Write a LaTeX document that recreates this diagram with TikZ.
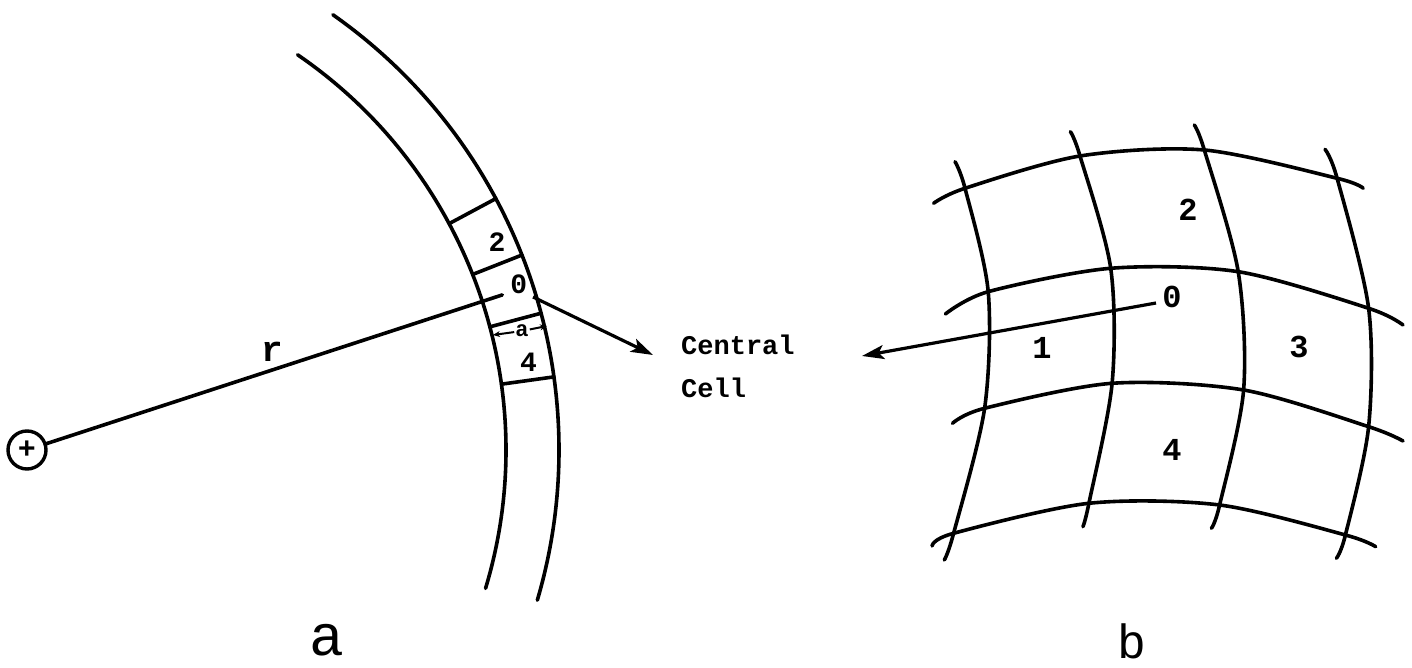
\documentclass[tikz,border=0pt]{standalone}
\usepackage{fontspec}
\newfontfamily\tw{Liberation Mono}
\usetikzlibrary{arrows.meta}
\begin{document}
\begin{tikzpicture}[x=1pt,y=1pt,
  line/.style={line width=3.6pt, line cap=round},
  arr/.style={line width=3.2pt, -{Stealth[length=22pt,width=14pt,inset=5pt]}},
  dimarr/.style={line width=2pt, -{Stealth[length=7pt,width=6pt]}},
  digit/.style={font=\tw\bfseries\fontsize{28}{30}\selectfont, inner sep=0pt},
  bdigit/.style={font=\tw\bfseries\fontsize{32}{34}\selectfont, inner sep=0pt},
  word/.style={font=\tw\bfseries\fontsize{27}{30}\selectfont, inner sep=0pt, anchor=base west},
  charge/.style={circle, draw, line width=3.4pt, minimum size=38pt, inner sep=0pt,
    font=\tw\bfseries\fontsize{30}{30}\selectfont}]
\useasboundingbox (0,0) rectangle (1412,668);
\fill[white] (0,0) rectangle (1412,668);

% ---------------- part a ----------------
\coordinate (O) at (27,218);
\node[charge] (q) at (O) {+};
\draw[line] ([shift={(O)}]55.6:479) arc[start angle=55.6,end angle=-16.8,radius=479];
\draw[line] ([shift={(O)}]54.9:532) arc[start angle=54.9,end angle=-16.4,radius=532];
\foreach \ang in {28.2,21.5,14.9,7.9}
  \draw[line] ([shift={(O)}]\ang:479) -- ([shift={(O)}]\ang:532);
\node[digit] (a2) at ([shift={(O)}]23.9:514) {2};
\node[digit] (a0) at ([shift={(O)}]18.6:519) {0};
\node[digit] (a4) at ([shift={(O)}]9.9:509) {4};
\coordinate (rend) at ([shift={(O)}]18.07:500);
\draw[line] (q) -- (rend);
\node[font=\tw\bfseries\fontsize{36}{36}\selectfont, inner sep=0pt] (rlab) at (272,316) {r};
% dimension a
\coordinate (aL) at (493,333);
\coordinate (aR) at (547,342);
\node[font=\tw\bfseries\fontsize{22}{22}\selectfont, inner sep=1pt] (alab) at (522,337) {a};
\draw[dimarr] (alab) -- (aL);
\draw[dimarr] (alab) -- (aR);
% arrow to central cell
\coordinate (atail) at (533,371);
\coordinate (atip) at (653,313);
\draw[arr] (atail) -- (atip);
\node[word] (central) at (681,313) {Central};
\node[word] (cell) at (681,270) {Cell};
\node[font=\tw\fontsize{58}{58}\selectfont, inner sep=0pt, anchor=base] (alabel) at (327,12) {a};

% ---------------- part b ----------------
% horizontal curves
\draw[line] plot[smooth] coordinates {(933.6,464.7) (965,479.7) (1080,512) (1204.3,518) (1337.1,489.7) (1363.2,479.7)};
\draw[line] plot[smooth] coordinates {(945.4,354) (988.2,376.3) (1110.7,399.7) (1238.2,396.3) (1368.6,359.7) (1403,343)};
\draw[line] plot[smooth] coordinates {(952.5,244.7) (984.6,259.7) (1112.1,284.7) (1243.6,278) (1368.6,241.3) (1403,227)};
\draw[line] plot[smooth] coordinates {(932.1,122) (953.6,134.7) (1088.9,164.7) (1219.6,163) (1345.4,133) (1375.7,121.3)};
% vertical curves
\draw[line] plot[smooth] coordinates {(955,506.3) (965,479.7) (988.2,376.3) (984.6,259.7) (953.6,134.7) (944.3,108)};
\draw[line] plot[smooth] coordinates {(1070.4,536.3) (1080,512) (1110.7,399.7) (1112.1,284.7) (1088.9,164.7) (1082.9,141.3)};
\draw[line] plot[smooth] coordinates {(1194.3,543) (1204.3,518) (1238.2,396.3) (1243.6,278) (1219.6,163) (1211.4,139.7)};
\draw[line] plot[smooth] coordinates {(1325,518.7) (1337.1,489.7) (1368.6,359.7) (1368.6,241.3) (1345.4,133) (1336.4,109.7)};
% labels
\node[bdigit] (b2) at (1188,458) {2};
\node[bdigit] (b0) at (1172,371) {0};
\node[bdigit] (b1) at (1042,320) {1};
\node[bdigit] (b3) at (1299,321) {3};
\node[bdigit] (b4) at (1172,218) {4};
\coordinate (btail) at (1156,365);
\coordinate (btip) at (862,312);
\draw[arr] (btail) -- (btip);
\node[font=\tw\fontsize{48}{48}\selectfont, inner sep=0pt, anchor=base] (blabel) at (1132,9) {b};
\end{tikzpicture}
\end{document}
